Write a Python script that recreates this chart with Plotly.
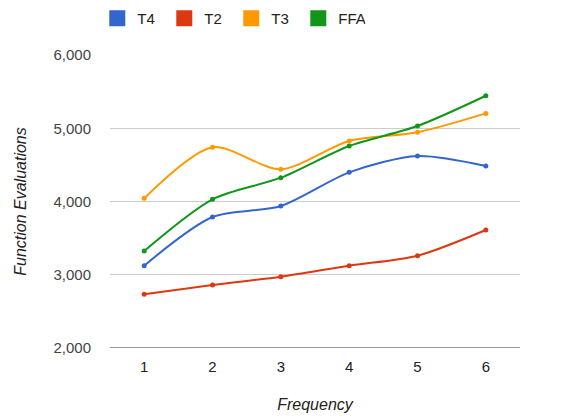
import plotly.graph_objects as go

# Frequency categories and function-evaluation counts per method
frequency = [1, 2, 3, 4, 5, 6]
t4 = [3124, 3788, 3938, 4398, 4621, 4485]
t2 = [2733, 2860, 2973, 3124, 3260, 3611]
t3 = [4043, 4740, 4440, 4826, 4945, 5203]
ffa = [3324, 4030, 4325, 4758, 5031, 5444]

series = [
    ("T4", t4, "#3366cc"),
    ("T2", t2, "#dc3912"),
    ("T3", t3, "#ff9900"),
    ("FFA", ffa, "#109618"),
]

fig = go.Figure()

for name, values, color in series:
    # smoothed line with small point markers
    fig.add_trace(go.Scatter(
        x=frequency, y=values, name=name, mode="lines+markers",
        line=dict(color=color, width=2, shape="spline", smoothing=0.8),
        marker=dict(color=color, size=5),
        showlegend=False, hoverinfo="x+y+name",
    ))
    # square swatch for the legend
    fig.add_trace(go.Scatter(
        x=[None], y=[None], name=name, mode="markers",
        marker=dict(color=color, size=16, symbol="square"),
        showlegend=True,
    ))

fig.update_layout(
    width=562, height=419,
    margin=dict(l=110, r=42, t=55, b=71, autoexpand=False),
    paper_bgcolor="white", plot_bgcolor="white",
    font=dict(family="Liberation Sans, Arial, sans-serif", size=15, color="#444444"),
    legend=dict(
        orientation="h", x=-0.031, y=0.995, xanchor="left", yanchor="top",
        yref="container",
        font=dict(size=15, color="#222222"),
        entrywidth=22, entrywidthmode="pixels",
        itemsizing="trace", borderwidth=0, bgcolor="rgba(0,0,0,0)",
    ),
    showlegend=True,
)

fig.update_xaxes(
    type="category", range=[-0.5, 5.5],
    showgrid=False, zeroline=False, showline=False, ticks="",
    ticklabelstandoff=8,
    tickfont=dict(size=15, color="#222222"),
    title=dict(text="<i>Frequency</i>", font=dict(size=16, color="#222222"), standoff=24),
)

fig.update_yaxes(
    range=[2000, 6000], tickvals=[2000, 3000, 4000, 5000, 6000],
    tickformat=",", showgrid=True, gridcolor="#cccccc", gridwidth=1,
    zeroline=False, showline=False, ticks="",
    ticklabelstandoff=18,
    tickfont=dict(size=15, color="#444444"),
    title=dict(text="<i>Function Evaluations</i>", font=dict(size=16, color="#222222"), standoff=22),
)

# dark baseline along the bottom of the plot area
fig.add_shape(type="line", xref="paper", yref="y", x0=0, x1=1, y0=2000, y1=2000,
              line=dict(color="#333333", width=1))

fig.write_html("out.html")
